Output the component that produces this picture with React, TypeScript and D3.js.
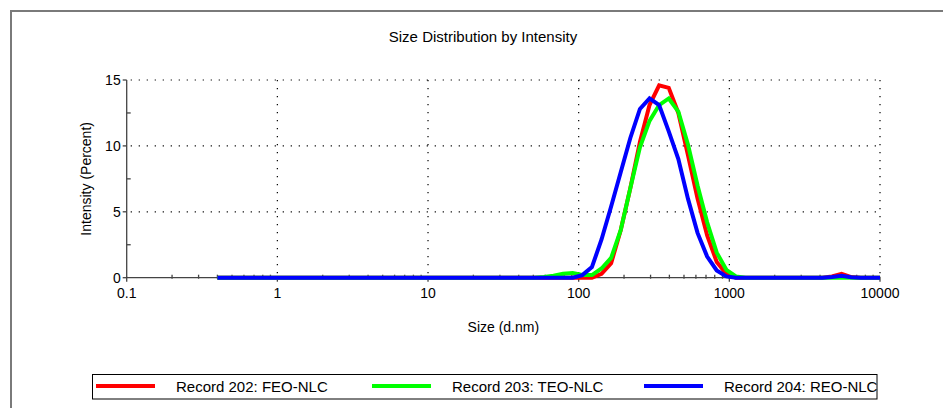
import React, { useRef, useEffect } from 'react';
import * as d3 from 'd3';

// size bins (d.nm)
const sizes = [
  0.4, 0.4632, 0.5365, 0.6213, 0.7195, 0.8332, 0.9649, 1.117, 1.294, 1.499,
  1.736, 2.01, 2.328, 2.696, 3.122, 3.615, 4.187, 4.849, 5.615, 6.503,
  7.531, 8.721, 10.1, 11.7, 13.54, 15.69, 18.17, 21.04, 24.36, 28.21,
  32.67, 37.84, 43.82, 50.75, 58.77, 68.06, 78.82, 91.28, 105.7, 122.4,
  141.8, 164.2, 190.1, 220.2, 255.0, 295.3, 342.0, 396.1, 458.7, 531.2,
  615.1, 712.4, 825.0, 955.4, 1106, 1281, 1484, 1718, 1990, 2305,
  2669, 3091, 3580, 4145, 4801, 5560, 6439, 7456, 8635, 10000,
];

const feo = [
  0, 0, 0, 0, 0, 0, 0, 0, 0, 0,
  0, 0, 0, 0, 0, 0, 0, 0, 0, 0,
  0, 0, 0, 0, 0, 0, 0, 0, 0, 0,
  0, 0, 0, 0, 0, 0, 0, 0, 0, 0,
  0.3, 1.1, 3.6, 6.8, 10.3, 13.1, 14.6, 14.4, 12.5, 9.3,
  6.0, 3.2, 1.2, 0.3, 0, 0, 0, 0, 0, 0,
  0, 0, 0, 0, 0.1, 0.3, 0.05, 0, 0, 0,
];

const teo = [
  0, 0, 0, 0, 0, 0, 0, 0, 0, 0,
  0, 0, 0, 0, 0, 0, 0, 0, 0, 0,
  0, 0, 0, 0, 0, 0, 0, 0, 0, 0,
  0, 0, 0, 0, 0.05, 0.15, 0.3, 0.35, 0.2, 0.2,
  0.7, 1.5, 3.6, 6.8, 9.9, 11.9, 13.1, 13.6, 12.6, 10.1,
  7.0, 4.2, 1.9, 0.6, 0.1, 0, 0, 0, 0, 0,
  0, 0, 0, 0, 0, 0, 0, 0, 0, 0,
];

const reo = [
  0, 0, 0, 0, 0, 0, 0, 0, 0, 0,
  0, 0, 0, 0, 0, 0, 0, 0, 0, 0,
  0, 0, 0, 0, 0, 0, 0, 0, 0, 0,
  0, 0, 0, 0, 0, 0, 0, 0, 0.2, 0.8,
  2.9, 5.4, 8.0, 10.6, 12.8, 13.6, 13.1, 11.1, 9.0, 6.0,
  3.4, 1.6, 0.55, 0.1, 0, 0, 0, 0, 0, 0,
  0, 0, 0, 0, 0.05, 0.15, 0.03, 0, 0, 0,
];

const seriesNames = ['Record 202: FEO-NLC', 'Record 203: TEO-NLC', 'Record 204: REO-NLC'];
const seriesColors = ['#ff0000', '#00ff00', '#0000ff'];
const xTicks = [0.1, 1, 10, 100, 1000, 10000];
const yTicks = [0, 5, 10, 15];

const App = () => {
  const svgRef = useRef<SVGSVGElement>(null);
  const width = 943;
  const height = 408;

  useEffect(() => {
    const svg = d3.select(svgRef.current);
    svg.selectAll('*').remove();
    const font = 'Arial, "Liberation Sans", sans-serif';

    const left = 126.7, right = 880, top = 80, bottom = 277.7;
    const x = d3.scaleLog().domain([0.1, 10000]).range([left, right]);
    const y = d3.scaleLinear().domain([0, 15]).range([bottom, top]);

    // outer frame (only top/left visible)
    svg.append('path')
      .attr('d', `M11,${height} V11 H${width}`)
      .attr('fill', 'none')
      .attr('stroke', '#7a7a7a')
      .attr('stroke-width', 2);

    svg.append('text')
      .attr('x', 483).attr('y', 42)
      .attr('text-anchor', 'middle')
      .attr('font-family', font).attr('font-size', 15)
      .text('Size Distribution by Intensity');

    // dotted grid
    const grid = svg.append('g').attr('stroke', '#000').attr('stroke-width', 1.2)
      .attr('stroke-dasharray', '1.2,6.8');
    yTicks.filter((t) => t > 0).forEach((t) => {
      grid.append('line').attr('x1', left + 4).attr('x2', right)
        .attr('y1', y(t)).attr('y2', y(t));
    });
    xTicks.filter((t) => t > 0.1).forEach((t) => {
      grid.append('line').attr('x1', x(t)).attr('x2', x(t))
        .attr('y1', top).attr('y2', bottom - 4);
    });

    // y axis
    const yAxis = svg.append('g').attr('stroke', '#444').attr('stroke-width', 1.3);
    yAxis.append('line').attr('x1', left).attr('x2', left).attr('y1', top).attr('y2', bottom);
    yTicks.forEach((t) => {
      yAxis.append('line').attr('x1', left - 4).attr('x2', left).attr('y1', y(t)).attr('y2', y(t));
    });
    [2.5, 7.5, 12.5].forEach((t) => {
      yAxis.append('line').attr('x1', left).attr('x2', left + 4).attr('y1', y(t)).attr('y2', y(t));
    });
    svg.append('g').selectAll('text').data(yTicks).join('text')
      .attr('x', left - 6).attr('y', (d) => y(d) + 5)
      .attr('text-anchor', 'end')
      .attr('font-family', font).attr('font-size', 14)
      .text((d) => d);

    // x axis
    const xAxis = svg.append('g').attr('stroke', '#444').attr('stroke-width', 1.3);
    xAxis.append('line').attr('x1', left).attr('x2', right).attr('y1', bottom).attr('y2', bottom);
    xTicks.forEach((t) => {
      xAxis.append('line').attr('x1', x(t)).attr('x2', x(t)).attr('y1', bottom - 1).attr('y2', bottom + 4);
    });
    xTicks.slice(0, -1).forEach((t) => {
      for (let k = 2; k <= 9; k++) {
        xAxis.append('line').attr('x1', x(t * k)).attr('x2', x(t * k))
          .attr('y1', bottom - 3).attr('y2', bottom + 1);
      }
    });
    svg.append('g').selectAll('text').data(xTicks).join('text')
      .attr('x', (d) => x(d)).attr('y', bottom + 20)
      .attr('text-anchor', 'middle')
      .attr('font-family', font).attr('font-size', 14)
      .text((d) => String(d));

    svg.append('text')
      .attr('x', (left + right) / 2).attr('y', 332)
      .attr('text-anchor', 'middle')
      .attr('font-family', font).attr('font-size', 14)
      .text('Size (d.nm)');

    svg.append('text')
      .attr('transform', `translate(91, ${(top + bottom) / 2}) rotate(-90)`)
      .attr('text-anchor', 'middle')
      .attr('font-family', font).attr('font-size', 14)
      .text('Intensity (Percent)');

    // curves
    const line = d3.line<number>()
      .x((_, i) => x(sizes[i]))
      .y((d) => y(d));
    [feo, teo, reo].forEach((vals, i) => {
      svg.append('path')
        .attr('d', line(vals))
        .attr('fill', 'none')
        .attr('stroke', seriesColors[i])
        .attr('stroke-width', 4)
        .attr('stroke-linejoin', 'miter');
    });

    // legend
    svg.append('rect')
      .attr('x', 92.5).attr('y', 374.5).attr('width', 784.5).attr('height', 24.5)
      .attr('fill', 'none').attr('stroke', '#000').attr('stroke-width', 1);
    const legX = [96, 372, 644];
    seriesNames.forEach((name, i) => {
      svg.append('line')
        .attr('x1', legX[i]).attr('x2', legX[i] + 59)
        .attr('y1', 386).attr('y2', 386)
        .attr('stroke', seriesColors[i]).attr('stroke-width', 4);
      svg.append('text')
        .attr('x', legX[i] + 80).attr('y', 391.5)
        .attr('font-family', font).attr('font-size', 15)
        .text(name);
    });
  }, []);

  return (
    <div style={{ position: 'fixed', left: 0, top: 0, background: '#fff' }}>
      <svg ref={svgRef} width={width} height={height} style={{ display: 'block' }}></svg>
    </div>
  );
};

export default App;
